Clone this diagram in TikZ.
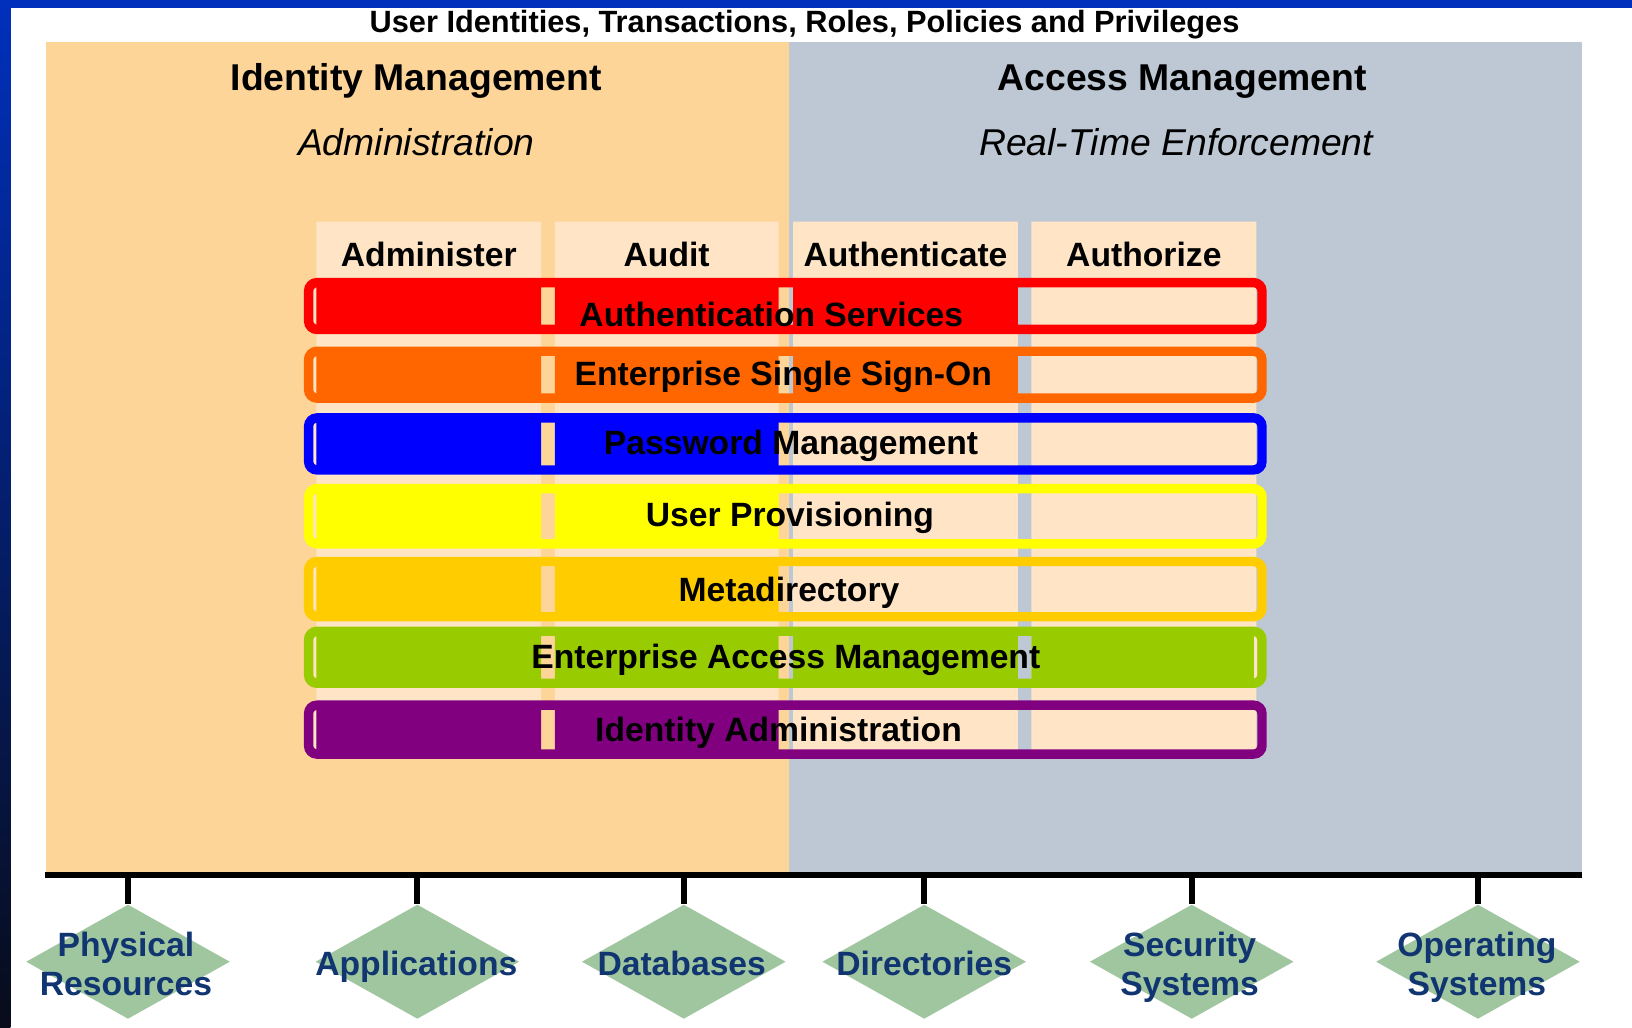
\documentclass[tikz,border=0pt]{standalone}
\usepackage{fontspec}
\setmainfont{Liberation Sans}
\usepackage{xcolor}
\usetikzlibrary{shapes.geometric}

\definecolor{frameblue}{HTML}{0030BC}
\definecolor{framedark}{HTML}{080C1A}
\definecolor{idmorange}{HTML}{FDD598}
\definecolor{amgray}{HTML}{BDC8D4}
\definecolor{colpeach}{HTML}{FFE5C6}
\definecolor{barred}{HTML}{FF0000}
\definecolor{barorange}{HTML}{FF6600}
\definecolor{barblue}{HTML}{0000FF}
\definecolor{baryellow}{HTML}{FFFF00}
\definecolor{bargold}{HTML}{FFCC00}
\definecolor{bargreen}{HTML}{99CC00}
\definecolor{barpurple}{HTML}{800080}
\definecolor{srcgreen}{HTML}{A0C6A0}
\definecolor{srcnavy}{HTML}{103570}

\tikzset{
	bar/.style={line width=0.09cm, rounded corners=0.08cm},
	bus/.style={line width=0.06cm},
	tick/.style={line width=0.06cm}
}

\begin{document}
\begin{tikzpicture}[
	x=0.01cm, y=-0.01cm, % one unit per pixel, y grows downwards
	title_style/.style={font=\fontsize{8.4}{10}\selectfont\bfseries, anchor=base},
	head_style/.style={font=\fontsize{10.2}{12}\selectfont\bfseries, anchor=base},
	sub_style/.style={font=\fontsize{10.2}{12}\selectfont\itshape, anchor=base},
	col_head/.style={font=\fontsize{9.2}{11}\selectfont\bfseries, anchor=base},
	bar_label/.style={font=\fontsize{9.2}{11}\selectfont\bfseries, anchor=base},
	src_diamond/.style={diamond, fill=srcgreen, minimum width=1.96cm, minimum height=1.1cm, inner sep=0pt},
	src_text/.style={font=\fontsize{9.2}{10.4}\selectfont\bfseries, text=srcnavy, align=center, anchor=base}
	]
	
	% --- Frame and page ---
	\useasboundingbox (0,0) rectangle (1568,987);
	\fill[white] (0,0) rectangle (1568,987);
	\shade[top color=frameblue, bottom color=framedark] (0,0) rectangle (10,987);
	\fill[frameblue] (0,0) rectangle (1568,8);
	
	% --- The two halves ---
	\fill[idmorange] (44,40) rectangle (758,838);
	\fill[amgray] (758,40) rectangle (1520,838);
	
	\node[title_style] (title) at (773,31) {User Identities, Transactions, Roles, Policies and Privileges};
	\node[head_style] (idm_head) at (400,86.5) {Identity Management};
	\node[sub_style] (idm_sub) at (400,149) {Administration};
	\node[head_style] (am_head) at (1136,86.5) {Access Management};
	\node[sub_style] (am_sub) at (1130,149) {Real-Time Enforcement};
	
	% --- Function columns ---
	\fill[colpeach] (304,213) rectangle (520,724) (533,213) rectangle (748,724)
		(762,213) rectangle (978,724) (991,213) rectangle (1207,724);
	\node[col_head] (col_admin) at (412,256) {Administer};
	\node[col_head] (col_audit) at (640.5,256) {Audit};
	\node[col_head] (col_authn) at (870,256) {Authenticate};
	\node[col_head] (col_authz) at (1099,256) {Authorize};
	
	% --- Product bars: filled cells, then the outline on top ---
	% Authentication Services
	\fill[barred] (304,271.5) rectangle (520,316.5) (533,271.5) rectangle (748,316.5) (762,271.5) rectangle (978,316.5);
	\fill[colpeach] (301,277.5) rectangle (303.5,310.5);
	\draw[bar, barred] (296.5,271.5) rectangle (1212.5,316.5);
	\node[bar_label] (bar_authsvc) at (741,314) {Authentication Services};
	
	% Enterprise Single Sign-On
	\fill[barorange] (304,337.5) rectangle (520,382.5) (533,337.5) rectangle (748,382.5) (762,337.5) rectangle (978,382.5);
	\fill[colpeach] (301,343.5) rectangle (303.5,376.5);
	\draw[bar, barorange] (296.5,337.5) rectangle (1212.5,382.5);
	\node[bar_label] (bar_esso) at (752.5,370) {Enterprise Single Sign-On};
	
	% Password Management
	\fill[barblue] (304,401.5) rectangle (520,451.5) (533,401.5) rectangle (748,451.5);
	\fill[colpeach] (301,407.5) rectangle (303.5,445.5);
	\draw[bar, barblue] (296.5,401.5) rectangle (1212.5,451.5);
	\node[bar_label] (bar_pwd) at (760,437) {Password Management};
	
	% User Provisioning
	\fill[baryellow] (304,469.5) rectangle (520,522.5) (533,469.5) rectangle (748,522.5);
	\fill[colpeach] (301,475.5) rectangle (303.5,516.5);
	\draw[bar, baryellow] (296.5,469.5) rectangle (1212.5,522.5);
	\node[bar_label] (bar_prov) at (759,506) {User Provisioning};
	
	% Metadirectory
	\fill[bargold] (304,539.5) rectangle (520,592.5) (533,539.5) rectangle (748,592.5);
	\fill[colpeach] (301,545.5) rectangle (303.5,586.5);
	\draw[bar, bargold] (296.5,539.5) rectangle (1212.5,592.5);
	\node[bar_label] (bar_meta) at (758,578) {Metadirectory};
	
	% Enterprise Access Management spans every column
	\fill[bargreen] (304,606.5) rectangle (520,656.5) (533,606.5) rectangle (748,656.5)
		(762,606.5) rectangle (978,656.5) (991,606.5) rectangle (1205,656.5);
	\fill[colpeach] (301,612.5) rectangle (303.5,650.5) (1205,612.5) rectangle (1208,650.5);
	\draw[bar, bargreen] (296.5,606.5) rectangle (1212.5,656.5);
	\node[bar_label] (bar_eam) at (755,642) {Enterprise Access Management};
	
	% Identity Administration
	\fill[barpurple] (304,677.5) rectangle (520,724.5) (533,677.5) rectangle (748,724.5);
	\fill[colpeach] (301,683.5) rectangle (303.5,718.5);
	\draw[bar, barpurple] (296.5,677.5) rectangle (1212.5,724.5);
	\node[bar_label] (bar_idadmin) at (748,712.5) {Identity Administration};
	
	% --- Resource layer ---
	\coordinate (bus_west) at (43,841);
	\coordinate (bus_east) at (1520,841);
	\draw[bus] (bus_west) -- (bus_east);
	
	\node[src_diamond] (phys) at (123,924) {};
	\node[src_diamond] (apps) at (401,924) {};
	\node[src_diamond] (dbs) at (657,924) {};
	\node[src_diamond] (dirs) at (888,924) {};
	\node[src_diamond] (secsys) at (1145,924) {};
	\node[src_diamond] (ossys) at (1420,924) {};
	
	\draw[tick] (phys.north) -- (phys.north |- bus_west);
	\draw[tick] (apps.north) -- (apps.north |- bus_west);
	\draw[tick] (dbs.north) -- (dbs.north |- bus_west);
	\draw[tick] (dirs.north) -- (dirs.north |- bus_west);
	\draw[tick] (secsys.north) -- (secsys.north |- bus_west);
	\draw[tick] (ossys.north) -- (ossys.north |- bus_west);
	
	% two-line labels sit on the baseline of their last line
	\node[src_text] (phys_text) at (121,956) {Physical\\Resources};
	\node[src_text] (apps_text) at (400,937) {Applications};
	\node[src_text] (dbs_text) at (655,937) {Databases};
	\node[src_text] (dirs_text) at (888,937) {Directories};
	\node[src_text] (secsys_text) at (1143,956) {Security\\Systems};
	\node[src_text] (ossys_text) at (1419,956) {Operating\\Systems};
	
\end{tikzpicture}
\end{document}
